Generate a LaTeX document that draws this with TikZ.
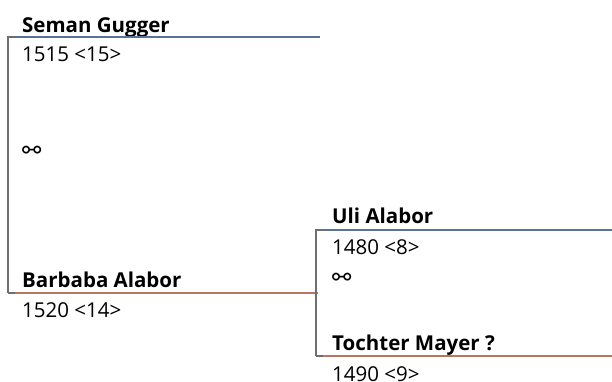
\documentclass[tikz,border=0pt]{standalone}
\usepackage{fontspec}
\setmainfont{Open Sans}
\newfontfamily\symfont{DejaVu Sans}
\definecolor{maleline}{HTML}{5B7393}
\definecolor{femaleline}{HTML}{BA7462}
\definecolor{bracketline}{HTML}{6E6E6E}

\begin{document}
\begin{tikzpicture}[x=1pt,y=-1pt,
    person/.style={anchor=base west,inner sep=0pt,font=\fontsize{20.5}{24}\selectfont\bfseries},
    info/.style={anchor=base west,inner sep=0pt,font=\fontsize{20.5}{24}\selectfont},
    union/.style={anchor=west,inner sep=0pt,font=\fontsize{23}{26}\symfont},
    male/.style={line width=2.4pt,maleline},
    female/.style={line width=2.4pt,femaleline},
    bracket/.style={line width=2.4pt,bracketline}]

    \useasboundingbox (0,0) rectangle (612,381);

    % Left couple
    \node[person] (seman) at (22,32) {Seman Gugger};
    \node[info] (semandate) at (22,61) {1515 <15>};
    \node[union] (leftunion) at (22,152) {⚯};
    \node[person] (barbaba) at (22,287) {Barbaba Alabor};
    \node[info] (barbabadate) at (22,317) {1520 <14>};

    \coordinate (lefttop) at (8,37);
    \coordinate (leftbottom) at (8,293);
    \coordinate (semanend) at (320,37);
    \coordinate (barbabaend) at (318,293);

    \draw[bracket] (leftbottom) -- (lefttop) -- ++(7,0) coordinate (semanstart);
    \draw[bracket] (leftbottom) -- ++(7,0) coordinate (barbabastart);
    \draw[male] (semanstart) -- (semanend);
    \draw[female] (barbabastart) -- (barbabaend);

    % Right couple
    \node[person] (uli) at (332,223) {Uli Alabor};
    \node[info] (ulidate) at (332,254) {1480 <8>};
    \node[union] (rightunion) at (332,279) {⚯};
    \node[person] (tochter) at (332,350) {Tochter Mayer ?};
    \node[info] (tochterdate) at (332,381) {1490 <9>};

    \coordinate (righttop) at (316,230);
    \coordinate (rightbottom) at (316,356);
    \coordinate (uliend) at (612,230);
    \coordinate (tochterend) at (612,356);

    \draw[bracket] (rightbottom) -- (righttop) -- ++(7,0) coordinate (ulistart);
    \draw[bracket] (rightbottom) -- ++(7,0) coordinate (tochterstart);
    \draw[male] (ulistart) -- (uliend);
    \draw[female] (tochterstart) -- (tochterend);

\end{tikzpicture}
\end{document}
